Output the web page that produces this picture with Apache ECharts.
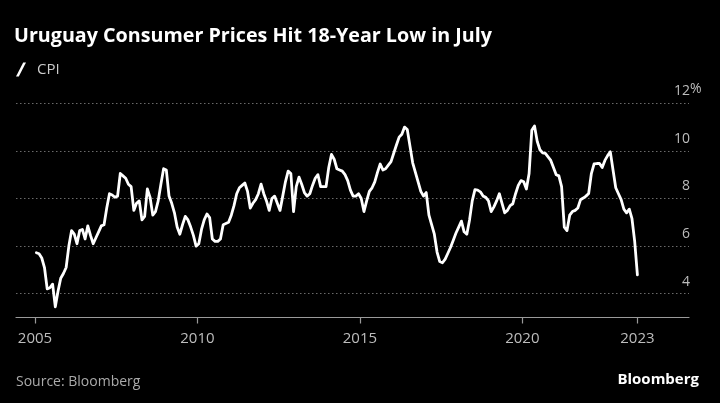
<!DOCTYPE html>
<html><head><meta charset="utf-8">
<script src="https://cdn.jsdelivr.net/npm/echarts@6/dist/echarts.min.js"></script>
<style>html,body{margin:0;padding:0;background:#000;}#c{width:720px;height:403px;}</style>
</head><body><div id="c"></div>
<script>
const chartTitle = 'Uruguay Consumer Prices Hit 18-Year Low in July';
const seriesName = 'CPI';
const sourceText = 'Source: Bloomberg';
const brandText = 'Bloomberg';
const unitText = '%';
const startYear = 2005;
// Monthly year-over-year CPI (%), Jan 2005 .. Jul 2023
const cpi = [
  5.72,5.68,5.5,5.1,4.2,4.25,4.4,3.45,4.1,4.65,4.85,5.1,
  6.0,6.65,6.5,6.1,6.65,6.7,6.3,6.85,6.45,6.1,6.35,6.6,
  6.85,6.9,7.6,8.2,8.15,8.05,8.1,9.05,8.95,8.85,8.6,8.5,
  7.5,7.8,7.9,7.1,7.25,8.4,8.05,7.3,7.45,7.9,8.6,9.25,
  9.2,8.1,7.8,7.4,6.8,6.5,6.9,7.25,7.1,6.8,6.45,6.0,
  6.1,6.7,7.1,7.35,7.2,6.3,6.2,6.2,6.3,6.9,6.95,7.0,
  7.3,7.7,8.2,8.45,8.55,8.65,8.3,7.6,7.8,7.95,8.2,8.6,
  8.2,7.9,7.5,8.0,8.1,7.8,7.5,8.1,8.7,9.15,9.05,7.45,
  8.5,8.9,8.6,8.25,8.1,8.2,8.55,8.85,9.0,8.5,8.5,8.5,
  9.3,9.85,9.65,9.25,9.2,9.15,9.0,8.75,8.35,8.1,8.1,8.2,
  8.0,7.45,7.9,8.3,8.45,8.7,9.1,9.45,9.2,9.25,9.4,9.55,
  9.9,10.25,10.58,10.7,11.0,10.9,10.2,9.5,9.1,8.7,8.3,8.1,
  8.25,7.3,6.9,6.5,5.75,5.35,5.3,5.45,5.7,5.95,6.25,6.55,
  6.8,7.05,6.6,6.5,7.1,7.9,8.37,8.35,8.28,8.1,8.05,7.9,
  7.45,7.65,7.9,8.2,7.8,7.4,7.5,7.7,7.78,8.2,8.55,8.75,
  8.7,8.4,9.05,10.87,11.05,10.4,10.05,9.92,9.9,9.75,9.6,9.3,
  9.0,8.95,8.5,6.8,6.65,7.3,7.45,7.5,7.6,7.95,8.02,8.1,
  8.21,9.05,9.45,9.47,9.47,9.3,9.6,9.8,9.96,9.2,8.45,8.2,
  7.95,7.55,7.4,7.55,7.15,6.2,4.79
];
const xTickYears = [2005, 2010, 2015, 2020];
const yTicks = [4, 6, 8, 10, 12];
const yMin = 3, yMax = 12;
const xMin = 2004.415, xMax = 2025.13;

const FONT = "'Open Sans', 'Noto Sans', sans-serif";
const data = cpi.map((v, i) => [startYear + (i + 0.5) / 12, v]);
const lastX = data[data.length - 1][0];
const xTicks = xTickYears.concat([lastX]);

const chart = echarts.init(document.getElementById('c'), null, {renderer:'canvas'});
chart.setOption({
  backgroundColor: '#000',
  animation: false,
  title: {
    text: chartTitle, left: 14, top: 26, padding: 0,
    textStyle: {color:'#fff', fontSize: 19.7, fontWeight: 'bold', fontFamily: FONT}
  },
  legend: {
    data: [seriesName], left: 16, top: 62, padding: 0,
    itemWidth: 10, itemHeight: 15,
    icon: 'path://M0,14 L2.8,14 L10,0 L7.2,0 Z',
    textStyle: {color:'#ccc', fontSize: 15, fontFamily: FONT, padding:[0,0,0,6]}
  },
  grid: {left: 16, right: 31, top: 103.3, bottom: 85.5, containLabel: false},
  xAxis: {
    type: 'value', min: xMin, max: xMax,
    axisLine: {show: true, lineStyle: {color:'#9a9a9a', width: 1.2}},
    axisTick: {show: true, customValues: xTicks, length: 6, lineStyle: {color:'#9a9a9a', width: 1.2}},
    axisLabel: {customValues: xTicks, formatter: v => String(Math.floor(v)), color:'#bdbdbd', fontSize: 15, margin: 14, fontFamily: FONT},
    splitLine: {show: false}
  },
  yAxis: {
    type: 'value', min: yMin, max: yMax, position: 'right',
    axisLine: {show: false},
    axisTick: {show: false, customValues: yTicks},
    axisLabel: {customValues: yTicks, align: 'right', margin: 1, verticalAlign: 'bottom', padding: [0,0,5,0], color:'#bdbdbd', fontSize: 14, fontFamily: FONT},
    splitLine: {show: true, lineStyle: {color:'#6a6a6a', width: 1, type: [1.5, 2.5]}}
  },
  series: [{
    name: seriesName, type: 'line', data: data, showSymbol: false, symbol: 'none',
    lineStyle: {color:'#fff', width: 2.8, join: 'round', cap: 'round'},
    itemStyle: {color:'#fff'}
  }],
  graphic: [
    {type:'text', left: 16, top: 375, style: {text: sourceText, fill:'#aaa', fontSize: 14, fontFamily: FONT}},
    {type:'text', right: 21, top: 372, style: {text: brandText, fill:'#fff', fontSize: 15, fontWeight: 'bold', fontFamily: FONT}}
  ]
});
// unit sign right after the top tick label, positioned from the axis scale
const topY = chart.convertToPixel({yAxisIndex: 0}, yTicks[yTicks.length - 1]);
const gridRight = chart.convertToPixel({xAxisIndex: 0}, xMax);
chart.setOption({graphic: [
  {type:'text', left: 16, top: 375, style: {text: sourceText, fill:'#aaa', fontSize: 14, fontFamily: FONT}},
  {type:'text', right: 21, top: 372, style: {text: brandText, fill:'#fff', fontSize: 15, fontWeight: 'bold', fontFamily: FONT}},
  {type:'text', x: gridRight + 1, y: topY - 14, style: {text: unitText, fill:'#bdbdbd', fontSize: 14, fontFamily: FONT, align:'left', verticalAlign:'middle'}}
]});
</script></body></html>
